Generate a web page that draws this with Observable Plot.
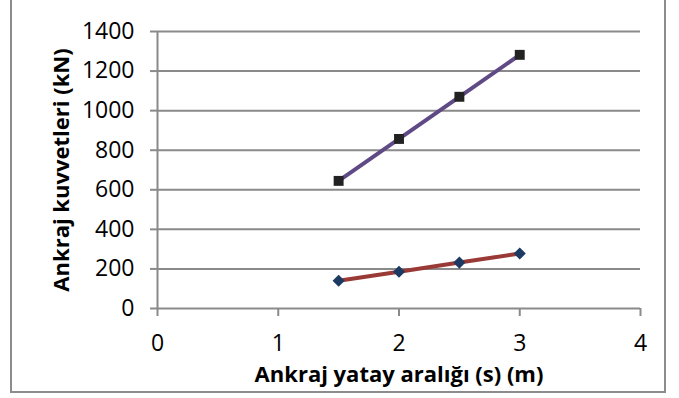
<!DOCTYPE html>
<html>
<head>
<meta charset="utf-8">
<script src="https://cdn.jsdelivr.net/npm/d3@7"></script>
<script src="https://cdn.jsdelivr.net/npm/@observablehq/plot@0.6"></script>
<style>
  html, body { margin: 0; padding: 0; background: #fff; }
  #wrap { position: relative; width: 679px; height: 398px; overflow: hidden; }
  #border { position: absolute; left: 10px; top: -3px; width: 656px; height: 396px; border: 2px solid #8c8c8c; box-sizing: border-box; pointer-events: none; }
  svg text { font-family: "Open Sans", "Liberation Sans", sans-serif; }
</style>
</head>
<body>
<div id="wrap"><div id="border"></div></div>
<script>
// Anchor horizontal spacing (m)
const spacing = [1.5, 2, 2.5, 3];
// Anchor forces (kN) for the two series
const forcesUpper = [645, 857, 1070, 1282];
const forcesLower = [140, 186, 232, 278];
const xTicks = [0, 1, 2, 3, 4];
const yTicks = [0, 200, 400, 600, 800, 1000, 1200, 1400];

const upper = spacing.map((s, i) => ({ s, f: forcesUpper[i] }));
const lower = spacing.map((s, i) => ({ s, f: forcesLower[i] }));

const grid = "#8a8a8a";

const chart = Plot.plot({
  width: 679,
  height: 398,
  marginLeft: 157,
  marginRight: 39,
  marginTop: 31,
  marginBottom: 90,
  style: { color: "#000", background: "transparent" },
  x: { type: "linear", domain: [0, 4], label: null },
  y: { type: "linear", domain: [0, 1400], label: null },
  marks: [
    // horizontal gridlines
    Plot.ruleY(yTicks, { x1: 0, x2: 4, stroke: grid, strokeWidth: 2 }),
    // vertical axis line
    Plot.ruleX([0], { y1: 0, y2: 1400, stroke: grid, strokeWidth: 2 }),
    Plot.axisY({ ticks: yTicks, tickFormat: d => String(d), tickSize: 7, tickPadding: 16, stroke: grid, strokeWidth: 2, strokeOpacity: 1, fontSize: 23, label: null }),
    Plot.axisX({ ticks: xTicks, tickFormat: d => String(d), tickSize: 8, tickPadding: 18, stroke: grid, strokeWidth: 2, strokeOpacity: 1, fontSize: 23, label: null }),
    Plot.lineY(upper, { x: "s", y: "f", stroke: "#5f4a86", strokeWidth: 4 }),
    Plot.dot(upper, { x: "s", y: "f", symbol: "square", r: 5.6, fill: "#222222" }),
    Plot.lineY(lower, { x: "s", y: "f", stroke: "#9a3a36", strokeWidth: 4 }),
    Plot.dot(lower, { x: "s", y: "f", symbol: "diamond2", r: 4.5, fill: "#1d3a63", stroke: "#1d3a63", strokeWidth: 1.5 }),
    Plot.text(["Ankraj yatay aralığı (s) (m)"], { frameAnchor: "bottom", textAnchor: "middle", dy: 73, fontWeight: "bold", fontSize: 22 }),
    Plot.text(["Ankraj kuvvetleri (kN)"], { frameAnchor: "left", textAnchor: "middle", dx: -96, rotate: -90, fontWeight: "bold", fontSize: 22 })
  ]
});
document.getElementById("wrap").prepend(chart);
</script>
</body>
</html>
